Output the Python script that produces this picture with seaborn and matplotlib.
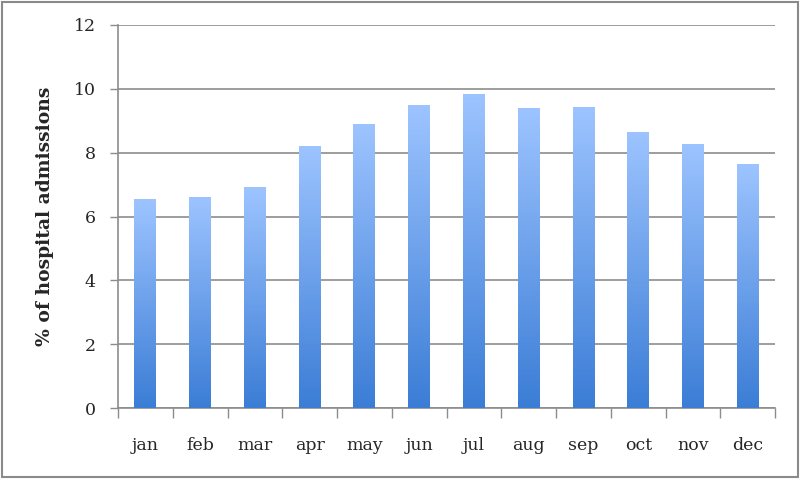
import numpy as np
import pandas as pd
import seaborn as sns
import matplotlib.pyplot as plt
from matplotlib.colors import LinearSegmentedColormap
from matplotlib.patches import Rectangle

# monthly share of hospital admissions (%)
months = ['jan', 'feb', 'mar', 'apr', 'may', 'jun', 'jul', 'aug', 'sep', 'oct', 'nov', 'dec']
admissions = [6.54, 6.61, 6.91, 8.22, 8.89, 9.48, 9.85, 9.39, 9.42, 8.65, 8.28, 7.64]

df = pd.DataFrame({'month': months, 'pct': admissions})

sns.set_style('white')
plt.rcParams['font.family'] = ['DejaVu Serif']

fig = plt.figure(figsize=(8, 4.79), dpi=100)
ax = fig.add_axes([0.1475, 0.148, 0.8215, 0.8])

grid_col = '#8c8c8c'
chart = sns.barplot(data=df, x='month', y='pct', ax=ax, width=0.4,
                    color='#6fa0e8', edgecolor='none', zorder=3)

# gradient fill, light on top, darker at the base
cmap = LinearSegmentedColormap.from_list('bars', ['#3b7dd6', '#9dc4ff'])
grad = np.linspace(0, 1, 256).reshape(-1, 1)
for p in list(ax.patches):
    x0, y0 = p.get_x(), p.get_y()
    w, h = p.get_width(), p.get_height()
    p.set_alpha(0)
    im = ax.imshow(grad, cmap=cmap, origin='lower', aspect='auto',
                   extent=[x0, x0 + w, y0, y0 + h], zorder=4)
    im.set_clip_path(p)

ax.set_xlim(-0.5, len(months) - 0.5)
ax.set_ylim(0, 12)
ax.set_yticks(np.arange(0, 13, 2))
ax.yaxis.grid(True, color=grid_col, linewidth=1.2, zorder=1)
ax.set_axisbelow(True)

# ticks sit between the categories
ax.set_xticks(np.arange(-0.5, len(months), 1), minor=False)
ax.set_xticklabels([])
ax.set_xticks(np.arange(len(months)), minor=True)
ax.set_xticklabels(months, minor=True)
ax.tick_params(axis='x', which='major', length=7, width=1, color=grid_col, direction='out', bottom=True)
ax.tick_params(axis='x', which='minor', length=0, labelsize=12.5, pad=21)
ax.tick_params(axis='y', length=6, width=1, color=grid_col, direction='out', left=True, labelsize=12.5, pad=10)

for side in ['top', 'right']:
    ax.spines[side].set_visible(False)
for side in ['left', 'bottom']:
    ax.spines[side].set_color(grid_col)
    ax.spines[side].set_linewidth(1.2)

ax.set_xlabel('')
ax.set_ylabel('% of hospital admissions', fontsize=13.5, fontweight='bold')
ax.yaxis.set_label_coords(-0.097, 0.5)

# outer frame round the whole chart
fig.patches.append(Rectangle((0.003, 0.004), 0.994, 0.992, transform=fig.transFigure,
                             fill=False, edgecolor='#8a8a8a', linewidth=1.5))

fig.savefig('out.png', dpi=100)
